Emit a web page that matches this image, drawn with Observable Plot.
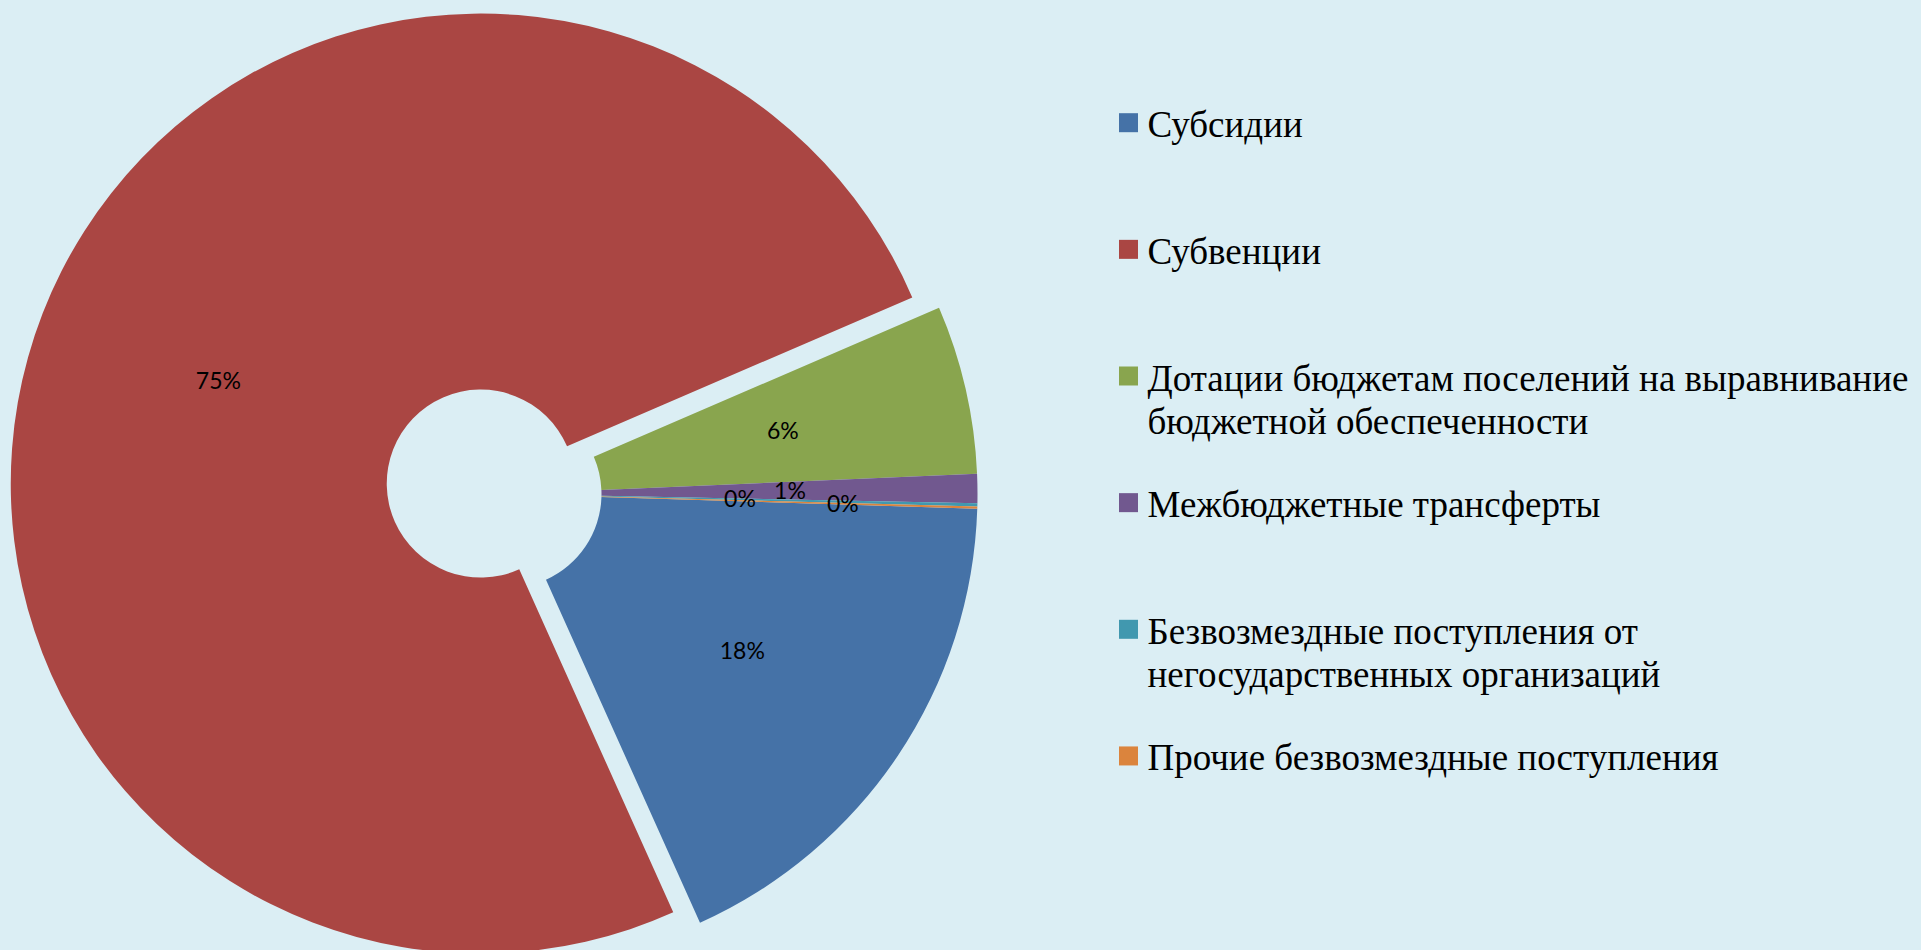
<!DOCTYPE html>
<html><head><meta charset="utf-8">
<script src="https://cdn.jsdelivr.net/npm/d3@7"></script>
<script src="https://cdn.jsdelivr.net/npm/@observablehq/plot@0.6"></script>
<style>
html,body{margin:0;padding:0;background:#DBEEF4;overflow:hidden;}
#chart svg{display:block;}
</style></head><body><div id="chart"></div>
<script>
// ---- data ----
const categories = [
  "Субсидии",
  "Субвенции",
  "Дотации бюджетам поселений на выравнивание бюджетной обеспеченности",
  "Межбюджетные трансферты",
  "Безвозмездные поступления от негосударственных организаций",
  "Прочие безвозмездные поступления"
];
const shares = [17.8, 75.3, 5.8, 1.0, 0.11, 0.08];
const percentLabels = ["18%", "75%", "6%", "1%", "0%", "0%"];
const legendLabels = [
  "Субсидии",
  "Субвенции",
  "Дотации бюджетам поселений на выравнивание\nбюджетной обеспеченности",
  "Межбюджетные трансферты",
  "Безвозмездные поступления от\nнегосударственных организаций",
  "Прочие безвозмездные поступления"
];
const colors = ["#4572A7", "#AA4643", "#89A54E", "#71588F", "#4198AF", "#DB843D"];
const explodedCategories = ["Субвенции"];

// ---- layout ----
const W = 1921, H = 950;
const cx = 507.5, cy = 494, rOuter = 470, rInner = 94, explode = 28.7, startDeg = 91.8;
const labelRadiusShift = [0, 0, 0, 0, -50, 53];
const legendSquareX = 1119, legendSquareSize = 19, legendTextX = 1147;
const legendFirstBaseline = 136.7, legendStep = 126.65, legendFont = 37, legendLineGap = 43.5;
const legendLineHeight = legendLineGap / legendFont;

const rows = categories.map((c, i) => ({category: c, share: shares[i], label: percentLabels[i], legend: legendLabels[i]}));
const pie = d3.pie().sort(null).value(d => d.share)
  .startAngle(startDeg * Math.PI / 180).endAngle(startDeg * Math.PI / 180 + 2 * Math.PI);
const slices = pie(rows).map((a, i) => {
  const mid = (a.startAngle + a.endAngle) / 2;
  const off = explodedCategories.includes(a.data.category) ? explode : 0;
  const ox = cx + Math.sin(mid) * off, oy = cy - Math.cos(mid) * off;
  const lr = (rInner + rOuter) / 2 + labelRadiusShift[i];
  return {...a.data, startAngle: a.startAngle, endAngle: a.endAngle, ox, oy,
          lx: ox + Math.sin(mid) * lr, ly: oy - Math.cos(mid) * lr};
});
const legendRows = rows.map((r, i) => ({...r, baseline: legendFirstBaseline + i * legendStep}));

function pieMark(index, scales) {
  const g = d3.create("svg:g");
  const arc = d3.arc();
  for (const s of slices) {
    const x0 = scales.x(s.ox), y0 = scales.y(s.oy);
    const ro = scales.x(s.ox + rOuter) - x0, ri = scales.x(s.ox + rInner) - x0;
    g.append("path")
      .attr("transform", `translate(${x0},${y0})`)
      .attr("d", arc({innerRadius: ri, outerRadius: ro, startAngle: s.startAngle, endAngle: s.endAngle}))
      .attr("fill", scales.color(s.category));
  }
  return g.node();
}

const chart = Plot.plot({
  width: W, height: H, margin: 0,
  x: {domain: [0, W], range: [0, W], axis: null},
  y: {domain: [0, H], range: [0, H], axis: null},
  color: {domain: categories, range: colors},
  style: {background: "#DBEEF4"},
  marks: [
    pieMark,
    Plot.text(slices, {x: "lx", y: "ly", text: "label", fontSize: 23, fontFamily: "Lato", fill: "black"}),
    Plot.rect(legendRows, {
      x1: legendSquareX, x2: legendSquareX + legendSquareSize,
      y1: d => d.baseline - 23.5, y2: d => d.baseline - 23.5 + legendSquareSize,
      fill: "category"
    }),
    Plot.text(legendRows, {
      x: legendTextX, y: d => d.baseline - 0.71 * legendLineHeight * legendFont, text: "legend",
      textAnchor: "start", lineAnchor: "top", lineHeight: legendLineHeight,
      fontSize: legendFont, fontFamily: "Liberation Serif", fill: "black"
    })
  ]
});
document.getElementById("chart").append(chart);
</script>
</body></html>
